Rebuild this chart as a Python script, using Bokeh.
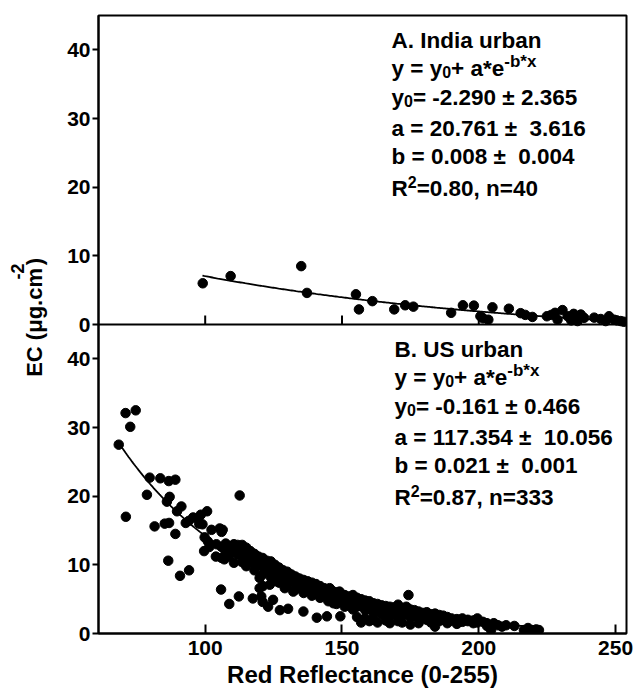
import numpy as np
from bokeh.plotting import figure
from bokeh.layouts import row
from bokeh.models import Range1d, FixedTicker, Span, Label
from bokeh.core.properties import value
from bokeh.embed import file_html
from bokeh.resources import INLINE

FONT = "Liberation Sans"

# ---------------- data ----------------
x_ticks = [100, 150, 200, 250]
ec_ticks = [0, 10, 20, 30, 40]
x_title = "Red Reflectance (0-255)"
y_title = [("EC (μg.cm", "n"), ("-2", "ysup"), (")", "n")]

india_x = [99.1, 109.3, 135.1, 137.2, 155.1, 156.2, 161.1, 169.1, 173.1, 176.1,
           189.9, 194.2, 198.2, 200.6, 201.6, 203.5, 205.0, 211.0, 215.3, 217.0,
           219.6, 224.9, 226.5, 227.9, 228.8, 230.6, 232.5, 233.8, 234.7, 236.1,
           237.3, 238.5, 242.2, 244.6, 246.4, 247.6, 249.4, 250.5, 251.9, 253.0]
india_y = [6.0, 7.05, 8.5, 4.6, 4.4, 2.2, 3.4, 2.2, 2.8, 2.6,
           1.7, 2.8, 2.75, 1.2, 0.9, 0.7, 2.5, 2.3, 1.65, 1.4,
           1.1, 1.2, 1.4, 1.7, 0.7, 2.1, 1.2, 0.6, 1.55, 0.5,
           1.45, 0.97, 1.0, 0.8, 0.5, 1.2, 0.7, 0.6, 0.5, 0.4]

us_x = [68.4, 70.9, 74.6, 72.6, 71.0, 79.7, 83.6, 86.7, 89.1, 78.7,
        87.0, 86.0, 91.3, 89.7, 81.5, 85.2, 86.8, 89.1, 94.0, 97.4,
        100.7, 98.4, 112.6, 99.0, 102.3, 105.3, 101.0, 104.1, 99.8, 92.9,
        97.8, 95.6, 106.4, 86.5, 90.8, 94.1, 99.6, 101.5, 103.9, 107.0,
        105.8, 108.8, 112.3, 117.4, 119.9, 120.5, 121.0, 123.0, 124.8, 127.3,
        130.3, 135.9, 140.8, 144.5, 149.4, 119.9, 121.1, 123.6, 126.0, 129.1,
        132.2, 135.3, 146.9, 149.4, 145.5, 149.1, 174.3]
us_y = [27.5, 32.1, 32.5, 30.1, 17.0, 22.7, 22.6, 22.2, 22.4, 20.2,
        19.9, 19.2, 18.5, 17.8, 15.6, 16.0, 16.1, 14.5, 16.4, 16.8,
        17.8, 17.3, 20.1, 15.9, 15.1, 15.3, 13.4, 13.0, 14.0, 16.1,
        16.0, 16.9, 15.1, 10.6, 8.4, 9.2, 12.0, 12.6, 11.2, 10.8,
        6.4, 4.3, 5.4, 5.1, 6.6, 5.4, 4.6, 3.9, 4.9, 3.4,
        3.6, 3.2, 2.3, 2.5, 2.5, 8.1, 6.9, 7.1, 7.6, 6.6,
        6.1, 6.6, 4.4, 4.7, 6.6, 6.1, 5.6]

# dense band of the US cloud: x positions and the y values read at each x
us_band_x = [106.0, 107.5, 108.8, 110.5, 111.9, 113.5, 115.0, 116.5, 118.0, 119.5,
             121.0, 122.5, 124.0, 125.5, 127.0, 128.5, 130.0, 131.5, 133.0, 134.5,
             136.0, 137.5, 139.0, 140.5, 142.0, 143.5, 145.0, 146.5, 148.0, 149.5,
             151.0, 152.5, 154.0, 155.5, 157.0, 158.5, 160.0, 161.5, 163.0, 164.5,
             166.0, 167.5, 169.0, 170.5, 172.0, 173.5, 175.0, 176.5, 178.0, 179.5,
             181.0, 182.5, 184.0, 185.5, 187.0, 188.5, 190.0, 192.0, 194.0, 196.0,
             198.0, 199.5, 201.5, 203.0, 204.5, 205.5, 207.0, 208.5, 210.0, 213.0,
             216.5, 218.0, 219.5, 221.0, 222.0]
us_band_y = [
    [14.8, 12.6, 11.0], [13.1, 11.8], [12.7, 11.3], [13.0, 12.0, 10.3], [12.9, 11.5],
    [12.9, 11.9, 10.4], [12.5, 11.0, 9.8], [12.0, 10.6], [11.6, 10.2, 9.2], [11.2, 10.0],
    [11.0, 9.8, 8.6], [10.6, 9.3], [10.5, 9.6, 8.2], [10.0, 8.8], [9.6, 8.4, 7.4],
    [9.2, 8.0], [9.0, 8.2, 7.0], [8.6, 7.6], [8.3, 7.4, 6.4], [8.0, 7.0],
    [7.8, 6.8, 5.9], [7.6, 6.5], [7.4, 6.4, 5.5], [7.2, 6.0], [6.9, 5.9, 5.2],
    [6.6, 5.6], [6.3, 5.4, 4.7], [6.2, 5.1], [6.0, 5.0, 4.3], [5.8, 4.8],
    [5.6, 4.6, 3.9], [5.4, 4.2], [5.6, 4.4, 3.5], [5.2, 3.9, 2.4], [5.0, 4.0, 1.6],
    [4.8, 3.4, 2.2], [4.7, 3.6, 1.8], [4.4, 3.0, 2.0], [4.3, 3.2, 1.6], [4.1, 2.8],
    [4.0, 3.0, 1.9], [3.9, 2.5, 1.5], [3.8, 2.8], [4.2, 3.0, 1.8], [3.6, 2.6, 1.6],
    [3.9, 2.9], [3.5, 2.4, 1.3], [3.4, 2.6], [3.2, 2.2, 1.5], [3.0, 2.4],
    [3.1, 2.0], [2.8, 1.6], [2.9, 2.1, 1.0], [2.7, 1.8], [2.6, 2.0],
    [2.4, 1.5], [2.2, 1.9], [2.1, 1.4], [2.2, 1.7], [2.0, 1.8],
    [1.9, 1.5], [2.2, 1.6], [1.7], [1.5, 1.1], [0.5], [1.5], [1.2], [1.0], [1.2], [1.1],
    [0.5], [0.8], [0.5], [0.6], [0.5]]

india_fit = {"y0": -2.290, "a": 20.761, "b": 0.008, "x_min": 99.0, "x_max": 254.0}
us_fit = {"y0": -0.161, "a": 117.354, "b": 0.021, "x_min": 68.4, "x_max": 222.0}

NB = "\u00a0"
ann_india = [
    [("A. India urban", "n")],
    [("y = y", "n"), ("0", "sub"), ("+ a*e", "n"), ("-b*x", "sup")],
    [("y", "n"), ("0", "sub"), ("= -2.290 ± 2.365", "n")],
    [("a = 20.761 ±" + NB + " 3.616", "n")],
    [("b = 0.008 ±" + NB + " 0.004", "n")],
    [("R", "n"), ("2", "sup2"), ("=0.80, n=40", "n")],
]
ann_us = [
    [("B. US urban", "n")],
    [("y = y", "n"), ("0", "sub"), ("+ a*e", "n"), ("-b*x", "sup")],
    [("y", "n"), ("0", "sub"), ("= -0.161 ± 0.466", "n")],
    [("a = 117.354 ±" + NB + " 10.056", "n")],
    [("b = 0.021 ±" + NB + " 0.001", "n")],
    [("R", "n"), ("2", "sup2"), ("=0.87, n=333", "n")],
]

# ---------------- layout / style ----------------
PANEL = 45.0
W, H = 633, 691
YW = 60            # strip holding the y title
PW, PH = W - YW, H
BL, BR, BT, BB = 98 - YW, 7, 15, 58
FRAME_H = PH - BT - BB

F_MAIN = 22.5
STYLE = {"n": (F_MAIN, 0), "sub": (16, -3.5), "sup": (17, 7), "sup2": (16, 6),
         "ysup": (18, 16.5)}
BASE_FIX = 8  # text boxes sit 8 px below the requested alphabetic baseline

AW = {' ': 278, '(': 333, ')': 333, '*': 389, '+': 584, ',': 278, '-': 333,
      '.': 278, '=': 584, 'μ': 611, 'E': 667, 'C': 722, 'R': 722, 'a': 556,
      'b': 611, 'c': 556, 'd': 611, 'e': 556, 'f': 333, 'g': 611, 'l': 278,
      'm': 889, 'n': 611, 't': 333, 'x': 556, 'y': 556}


def text_w(s, size):
    return sum(AW.get(ch, 556) for ch in s) * size / 1000.0


p = figure(width=PW, height=PH, x_range=Range1d(61, 254), y_range=Range1d(0, 2 * PANEL),
           output_backend="svg", toolbar_location=None, title=None,
           min_border_left=BL, min_border_right=BR, min_border_top=BT, min_border_bottom=BB)
p.extra_y_ranges = {"top": Range1d(-PANEL, PANEL)}
p.xgrid.visible = False
p.ygrid.visible = False
p.outline_line_color = "black"
p.outline_line_width = 2
p.background_fill_color = "white"
p.border_fill_color = "white"

for ax in (p.xaxis[0], p.yaxis[0]):
    ax.axis_line_width = 2
    ax.axis_line_color = "black"
    ax.major_tick_line_width = 2
    ax.major_tick_line_color = "black"
    ax.minor_tick_line_color = None
    ax.major_label_text_font = FONT
    ax.major_label_text_font_style = "bold"
    ax.major_label_text_font_size = "21px"
    ax.major_label_text_color = "black"

p.xaxis.ticker = FixedTicker(ticks=x_ticks)
p.xaxis.major_tick_in = 9
p.xaxis.major_tick_out = 0
p.xaxis.major_label_standoff = 7
p.xaxis.axis_label = x_title
p.xaxis.axis_label_text_font = FONT
p.xaxis.axis_label_text_font_style = "bold"
p.xaxis.axis_label_text_font_size = "24px"
p.xaxis.axis_label_text_color = "black"
p.xaxis.axis_label_standoff = 3

y_pos = list(ec_ticks) + [PANEL + t for t in ec_ticks]
p.yaxis.ticker = FixedTicker(ticks=y_pos)
p.yaxis.major_label_overrides = {v: str(t) for v, t in zip(y_pos, ec_ticks + ec_ticks)}
p.yaxis.major_tick_in = 0
p.yaxis.major_tick_out = 6
p.yaxis.major_label_standoff = 2

# divider between panels and the inward ticks of the upper panel
p.add_layout(Span(location=0, dimension="width", y_range_name="top",
                  line_color="black", line_width=2))
p.ray(x=x_ticks, y=[0] * len(x_ticks), length=9, length_units="screen", angle=np.pi / 2,
      y_range_name="top", line_color="black", line_width=2)

# fitted curves from the printed coefficients
for fit, rng in ((india_fit, "top"), (us_fit, "default")):
    fx = np.linspace(fit["x_min"], fit["x_max"], 300)
    fy = fit["y0"] + fit["a"] * np.exp(-fit["b"] * fx)
    p.line(fx, fy, line_color="black", line_width=1.8, y_range_name=rng)

# points
bx, by = [], []
for xv, ys in zip(us_band_x, us_band_y):
    for yv in ys:
        bx.append(xv)
        by.append(yv)
p.scatter(us_x + bx, us_y + by, marker="circle", size=9.5, color="black")
p.scatter(india_x, india_y, marker="circle", size=9.5, color="black", y_range_name="top")


LINE_OFF = [33, 60.5, 90, 120.5, 148.5, 180.5]
for ann, top_y, x0 in ((ann_india, FRAME_H, 293), (ann_us, FRAME_H / 2, 296)):
    for line, off in zip(ann, LINE_OFF):
        xx = x0
        base = top_y - off + BASE_FIX
        for txt, kind in line:
            size, dy = STYLE[kind]
            p.add_layout(Label(x=xx, y=base + dy, x_units="screen", y_units="screen",
                               text=txt, text_font=FONT, text_font_style="bold",
                               text_font_size=f"{size}px", text_color="black",
                               text_align="left", text_baseline="alphabetic"))
            xx += text_w(txt, size)

# y title strip (rotated, with superscript)
yf = figure(width=YW, height=H, x_range=Range1d(0, YW), y_range=Range1d(0, H),
            output_backend="svg", toolbar_location=None, title=None,
            x_axis_type=None, y_axis_type=None,
            min_border_left=0, min_border_right=0, min_border_top=0, min_border_bottom=0)
yf.outline_line_color = None
yf.xgrid.visible = False
yf.ygrid.visible = False
yf.background_fill_color = "white"
yf.border_fill_color = "white"

yy = H - 404
for txt, kind in y_title:
    size = 22 if kind == "n" else STYLE[kind][0]
    raise_px = 0 if kind == "n" else STYLE[kind][1]
    yf.text(x=[41.7 - BASE_FIX - raise_px], y=[yy], text=[txt], angle=np.pi / 2,
            text_font=value(FONT), text_font_style="bold", text_font_size=value(f"{size}px"),
            text_color="black", text_align="left", text_baseline="alphabetic")
    yy += text_w(txt, size)

layout = row(yf, p, spacing=0)
open("out.html", "w").write(file_html(layout, INLINE))
